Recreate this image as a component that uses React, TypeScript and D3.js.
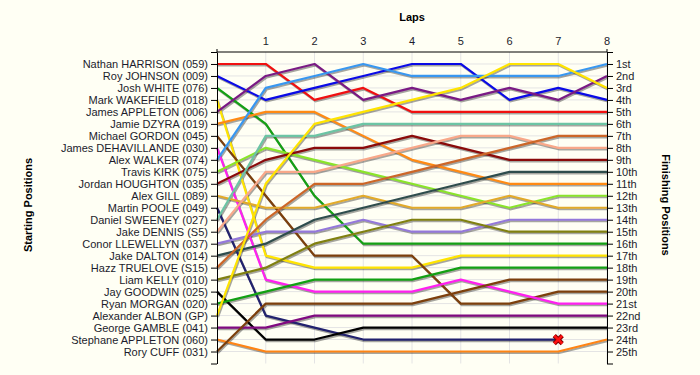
import * as d3 from "d3";
import { useEffect, useRef } from "react";

// starting grid order, names as on the left axis
const drivers = [
  "Nathan HARRISON (059)",
  "Roy JOHNSON (009)",
  "Josh WHITE (076)",
  "Mark WAKEFIELD (018)",
  "James APPLETON (006)",
  "Jamie DZYRA (019)",
  "Michael GORDON (045)",
  "James DEHAVILLANDE (030)",
  "Alex WALKER (074)",
  "Travis KIRK (075)",
  "Jordan HOUGHTON (035)",
  "Alex GILL (089)",
  "Martin POOLE (049)",
  "Daniel SWEENEY (027)",
  "Jake DENNIS (S5)",
  "Conor LLEWELLYN (037)",
  "Jake DALTON (014)",
  "Hazz TRUELOVE (S15)",
  "Liam KELLY (010)",
  "Jay GOODWIN (025)",
  "Ryan MORGAN (020)",
  "Alexander ALBON (GP)",
  "George GAMBLE (041)",
  "Stephane APPLETON (060)",
  "Rory CUFF (031)",
];

const lapLabels = ["1", "2", "3", "4", "5", "6", "7", "8"];

const finishLabels = [
  "1st", "2nd", "3rd", "4th", "5th", "6th", "7th", "8th", "9th", "10th",
  "11th", "12th", "13th", "14th", "15th", "16th", "17th", "18th", "19th", "20th",
  "21st", "22nd", "23rd", "24th", "25th",
];

// position at start (lap 0) and after each lap, one row per driver
const positions = [
  [1, 1, 4, 3, 5, 5, 5, 5, 5],
  [2, 4, 3, 2, 1, 1, 4, 3, 4],
  [3, 6, 12, 16, 16, 16, 16, 16, 16],
  [4, 17, 18, 18, 18, 17, 17, 17, 17],
  [5, 2, 1, 4, 3, 4, 3, 4, 2],
  [6, 5, 5, 7, 9, 10, 11, 11, 11],
  [7, 12, 17, 17, 17, 21, 21, 20, 20],
  [8, 19, 20, 20, 20, 19, 20, 21, 21],
  [9, 3, 2, 1, 2, 2, 2, 2, 1],
  [10, 8, 9, 10, 11, 12, 13, 12, 12],
  [11, 9, 8, 8, 7, 8, 9, 9, 9],
  [12, 13, 13, 12, 13, 13, 12, 13, 13],
  [13, 22, 23, 24, 24, 24, 24, 24],
  [14, 7, 7, 6, 6, 6, 6, 6, 6],
  [15, 10, 10, 9, 8, 7, 7, 8, 8],
  [16, 15, 15, 14, 15, 15, 14, 14, 14],
  [17, 16, 14, 13, 12, 11, 10, 10, 10],
  [18, 14, 11, 11, 10, 9, 8, 7, 7],
  [19, 18, 16, 15, 14, 14, 15, 15, 15],
  [20, 24, 24, 23, 23, 23, 23, 23, 23],
  [21, 20, 19, 19, 19, 18, 18, 18, 18],
  [22, 11, 6, 5, 4, 3, 1, 1, 3],
  [23, 23, 22, 22, 22, 22, 22, 22, 22],
  [24, 25, 25, 25, 25, 25, 25, 25, 24],
  [25, 21, 21, 21, 21, 20, 19, 19, 19],
];

// drivers who dropped out: index into drivers
const retired = [12];

const lineColors = [
  "#f01010", "#0a0ae6", "#14a014", "#ffe400", "#7a1a84",
  "#ff8a14", "#7c3f0c", "#ff20f0", "#3897f0", "#8ae42a",
  "#8a0a0a", "#e2aa2a", "#22226e", "#6cc4a4", "#f8a88a",
  "#9478da", "#2e4c4c", "#cc6628", "#808010", "#000000",
  "#12a012", "#ffe400", "#800a80", "#ff8414", "#7c3f0c",
];

const W = 700;
const H = 375;
const left = 217;
const right = 607;
const top = 52;
const bottom = 363.5;
const font = "'Liberation Sans', Arial, sans-serif";

export default function App() {
  const leftAxisRef = useRef(null);
  const rightAxisRef = useRef(null);

  const x = d3.scaleLinear().domain([0, 8]).range([left, right]);
  const y = d3.scaleLinear().domain([0, 26]).range([top, bottom]);
  const rows = d3.range(0, 27);

  const line = d3
    .line<number>()
    .x((d, i) => x(i))
    .y((d) => y(d));

  useEffect(() => {
    const la = d3
      .axisLeft(y)
      .tickValues(rows)
      .tickSize(6)
      .tickSizeOuter(0)
      .tickPadding(3)
      .tickFormat((d) => drivers[+d - 1] || "");
    const ra = d3
      .axisRight(y)
      .tickValues(rows)
      .tickSize(6)
      .tickSizeOuter(0)
      .tickPadding(3)
      .tickFormat((d) => finishLabels[+d - 1] || "");
    [
      [leftAxisRef, la],
      [rightAxisRef, ra],
    ].forEach(([ref, axis]: any) => {
      const g = d3.select(ref.current);
      g.call(axis);
      g.attr("font-family", font).attr("font-size", 11);
      g.selectAll("text").attr("fill", "#1c1c2c");
      g.selectAll("line").attr("stroke", "#000");
      g.select(".domain").attr("stroke", "#000");
    });
  }, []);

  const markerSize = 4;

  return (
    <svg
      width={W}
      height={H}
      style={{ position: "absolute", left: 0, top: 0, background: "#fffff4" }}
    >
      <rect width={W} height={H} fill="#fffff4" />
      {/* grid */}
      <g stroke="#e4e4e4" strokeWidth={1}>
        {d3.range(1, 26).map((r) => (
          <line key={`h${r}`} x1={left} x2={right} y1={y(r)} y2={y(r)} />
        ))}
        {d3.range(1, 9).map((l) => (
          <line key={`v${l}`} x1={x(l)} x2={x(l)} y1={top} y2={bottom} />
        ))}
      </g>

      {/* shadows */}
      <g fill="none" transform="translate(1,1.5)">
        {positions.map((p, i) => (
          <path
            key={`s${i}`}
            d={line(p) || ""}
            stroke="#000"
            strokeOpacity={0.35}
            strokeWidth={2.2}
          />
        ))}
      </g>
      {/* lap lines */}
      <g fill="none">
        {positions.map((p, i) => (
          <path
            key={`l${i}`}
            d={line(p) || ""}
            stroke={lineColors[i]}
            strokeWidth={2.2}
            strokeLinejoin="round"
          />
        ))}
      </g>

      {/* retirement markers */}
      {retired.map((i) => {
        const p = positions[i];
        const cx = x(p.length - 1);
        const cy = y(p[p.length - 1]);
        const s = markerSize;
        return (
          <g key={`x${i}`} transform={`translate(${cx},${cy})`}>
            <path
              d={`M${-s},${-s}L${s},${s}M${s},${-s}L${-s},${s}`}
              stroke="#800000"
              strokeWidth={4.5}
            />
            <path
              d={`M${-s},${-s}L${s},${s}M${s},${-s}L${-s},${s}`}
              stroke="#ff1010"
              strokeWidth={2.5}
            />
          </g>
        );
      })}

      {/* axes */}
      <g ref={leftAxisRef} transform={`translate(${left},0)`} />
      <g ref={rightAxisRef} transform={`translate(${right},0)`} />
      <line x1={left} x2={right} y1={top} y2={top} stroke="#000" />
      <line x1={left} x2={left} y1={top - 3} y2={top} stroke="#000" />
      <line x1={right} x2={right} y1={top - 3} y2={top} stroke="#000" />
      <g fontFamily={font} fontSize={11} fill="#1c1c2c" textAnchor="middle">
        {lapLabels.map((t, i) => (
          <text key={t} x={x(i + 1)} y={45}>
            {t}
          </text>
        ))}
      </g>

      {/* titles */}
      <g fontFamily={font} fontSize={11} fontWeight="bold" fill="#000" textAnchor="middle">
        <text x={(left + right) / 2} y={21}>
          Laps
        </text>
        <text transform={`translate(32,205) rotate(-90)`}>Starting Positions</text>
        <text transform={`translate(662,205) rotate(90)`}>Finishing Positions</text>
      </g>
    </svg>
  );
}
